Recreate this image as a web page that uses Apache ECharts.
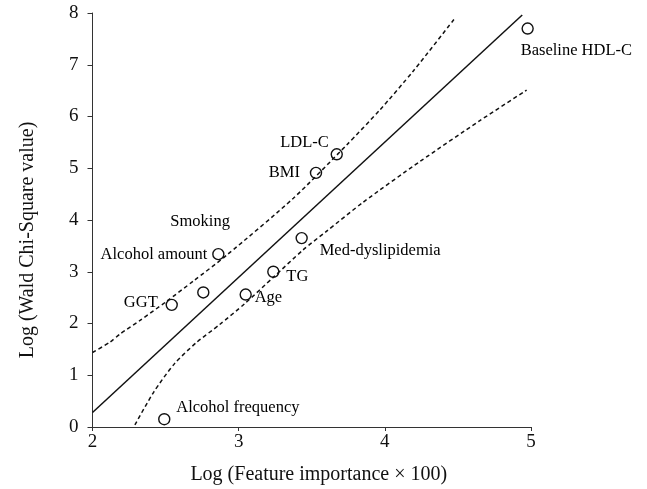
<!DOCTYPE html>
<html>
<head>
<meta charset="utf-8">
<script src="https://cdn.jsdelivr.net/npm/echarts@6/dist/echarts.min.js"></script>
<style>
html,body{margin:0;padding:0;background:#fff;}
#chart{width:647px;height:489px;}
</style>
</head>
<body>
<div id="chart"></div>
<script>
// ---- data ----
const featureNames = ['Baseline HDL-C','LDL-C','BMI','Med-dyslipidemia','Alcohol amount','TG','Smoking','Age','GGT','Alcohol frequency'];
const featureImportanceLog = [4.977, 3.671, 3.529, 3.431, 2.861, 3.237, 2.758, 3.048, 2.542, 2.491];
const waldChiSquareLog = [7.70, 5.27, 4.91, 3.65, 3.34, 3.00, 2.60, 2.56, 2.36, 0.15];
const fitLine = [[2.0, 0.28], [4.94, 7.96]];
const upperBand = [[2.0,1.44],[2.12,1.64],[2.19,1.80],[2.325,2.06],[2.503,2.42],[2.69,2.82],[2.918,3.32],[3.374,4.42],[3.739,5.45],[3.967,6.13],[4.195,6.88],[4.48,7.90]];
const lowerBand = [[2.29,0.04],[2.42,0.68],[2.56,1.22],[2.71,1.63],[2.87,1.98],[3.04,2.38],[3.24,2.90],[3.44,3.42],[3.60,3.78],[3.85,4.34],[4.24,5.13],[4.65,5.92],[4.97,6.51]];
const xTicks = [2, 3, 4, 5];
const yTicks = [0, 1, 2, 3, 4, 5, 6, 7, 8];

// ---- label placement (style only) ----
const labelPlace = {
  'Baseline HDL-C':   {align:'left',  offset:[-7, 22]},
  'LDL-C':            {align:'right', offset:[-8, -12]},
  'BMI':              {align:'right', offset:[-16, 0]},
  'Med-dyslipidemia': {align:'left',  offset:[18, 13]},
  'Alcohol amount':   {align:'right', offset:[-11, 1]},
  'TG':               {align:'left',  offset:[13, 5]},
  'Smoking':          {align:'left',  offset:[-33, -71]},
  'Age':              {align:'left',  offset:[9, 3]},
  'GGT':              {align:'right', offset:[-14, -2]},
  'Alcohol frequency':{align:'left',  offset:[12, -12]}
};

const FONT = '"Liberation Serif", "Times New Roman", serif';
const INK = '#111111';

const scatterData = featureNames.map((n, i) => {
  const p = labelPlace[n];
  return {
    name: n,
    value: [featureImportanceLog[i], waldChiSquareLog[i]],
    label: {
      show: true, position: 'inside', formatter: n,
      align: p.align, verticalAlign: 'middle', offset: p.offset,
      color: '#000', opacity: 1, textBorderWidth: 0, textBorderColor: 'transparent',
      fontFamily: FONT, fontSize: 16.5
    }
  };
});

const chart = echarts.init(document.getElementById('chart'), null, {renderer:'canvas'});
chart.setOption({
  animation: false,
  backgroundColor: '#fff',
  grid: {left: 92.5, right: 116, top: 13, bottom: 62, containLabel: false, outerBoundsMode: 'none'},
  xAxis: {
    type: 'value', min: xTicks[0], max: xTicks[xTicks.length-1], interval: 1,
    offset: 2,
    name: 'Log (Feature importance × 100)',
    nameLocation: 'middle', nameGap: 36,
    nameTextStyle: {fontFamily: FONT, fontSize: 20, color: INK, padding: [0,0,0,14]},
    axisLine: {show: true, lineStyle: {color: '#333', width: 1}},
    axisTick: {show: true, length: 4, inside: false, lineStyle: {color: '#333'}},
    axisLabel: {fontFamily: FONT, fontSize: 19, color: INK, margin: 4},
    splitLine: {show: false}
  },
  yAxis: {
    type: 'value', min: yTicks[0], max: yTicks[yTicks.length-1], interval: 1,
    name: 'Log (Wald Chi-Square value)',
    nameLocation: 'middle', nameGap: 55,
    nameTextStyle: {fontFamily: FONT, fontSize: 20, color: INK, padding: [0,40,0,0]},
    axisLine: {show: true, lineStyle: {color: '#333', width: 1}},
    axisTick: {show: true, length: 5, lineStyle: {color: '#333'}},
    axisLabel: {fontFamily: FONT, fontSize: 19, color: INK, margin: 14},
    splitLine: {show: false}
  },
  series: [
    {
      type: 'line', data: fitLine, showSymbol: false, silent: true,
      lineStyle: {color: '#111', width: 1.5}, z: 2
    },
    {
      type: 'line', data: upperBand, showSymbol: false, silent: true,
      smooth: 0.25,
      lineStyle: {color: '#111', width: 1.5, type: [4, 3]}, z: 2
    },
    {
      type: 'line', data: lowerBand, showSymbol: false, silent: true,
      smooth: 0.25,
      lineStyle: {color: '#111', width: 1.5, type: [4, 3]}, z: 2
    },
    {
      type: 'scatter', data: scatterData, symbol: 'circle', symbolSize: 11,
      itemStyle: {color: 'rgba(0,0,0,0)', borderColor: '#111', borderWidth: 1.4, opacity: 1},
      z: 5
    }
  ]
});
</script>
</body>
</html>
